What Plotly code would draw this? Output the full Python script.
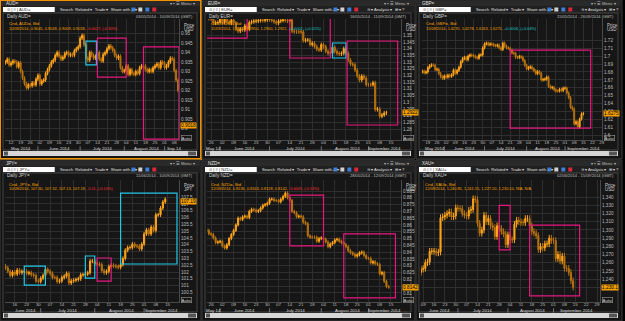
import pandas as pd
import plotly.graph_objects as go

W, H = 625, 321

# ---------------- data (daily closes) ----------------
aud_close = [
    0.9350, 0.9365, 0.9335,
    0.9345, 0.9355, 0.9350, 0.9325, 0.9345,
    0.9300, 0.9265, 0.9235, 0.9215, 0.9230,
    0.9225, 0.9240, 0.9230, 0.9260, 0.9280,
    0.9235, 0.9250, 0.9255, 0.9290, 0.9310,
    0.9330, 0.9350, 0.9360, 0.9385, 0.9400,
    0.9380, 0.9365, 0.9375, 0.9395, 0.9400,
    0.9385, 0.9390, 0.9385, 0.9410, 0.9420,
    0.9430,
    0.9475, 0.9490, 0.9440, 0.9370,
    0.9360, 0.9400, 0.9385, 0.9370, 0.9380,
    0.9400, 0.9365, 0.9355, 0.9390, 0.9400,
    0.9420, 0.9435, 0.9425, 0.9410, 0.9385,
    0.9370, 0.9380, 0.9320, 0.9300,
    0.9305,
    0.9330, 0.9285, 0.9310, 0.9290, 0.9285,
    0.9300, 0.9290, 0.9320, 0.9330, 0.9330,
    0.9310, 0.9300, 0.9310, 0.9300, 0.9320,
    0.9330, 0.9340, 0.9320, 0.9350, 0.9345,
    0.9320, 0.9330, 0.9350, 0.9370, 0.9365,
    0.9305, 0.9255, 0.9200,
]
eur_close = [
    1.3630, 1.3625,
    1.3640, 1.3590, 1.3595, 1.3595, 1.3635,
    1.3595, 1.3620, 1.3600, 1.3590, 1.3615,
    1.3590, 1.3545, 1.3530, 1.3545, 1.3540,
    1.3570, 1.3545, 1.3595, 1.3600, 1.3605,
    1.3605, 1.3610, 1.3615, 1.3610, 1.3615,
    1.3620,
    1.3615, 1.3610, 1.3600, 1.3590,
    1.3605, 1.3610, 1.3615, 1.3610, 1.3605,
    1.3615, 1.3530, 1.3525, 1.3525, 1.3525,
    1.3525, 1.3460, 1.3465, 1.3465, 1.3430,
    1.3440, 1.3415, 1.3395, 1.3390,
    1.3430,
    1.3415, 1.3380, 1.3365, 1.3365, 1.3410,
    1.3380, 1.3365, 1.3360, 1.3365, 1.3400,
    1.3365, 1.3315, 1.3285, 1.3280, 1.3240,
    1.3195, 1.3165, 1.3195, 1.3180, 1.3130,
    1.3130, 1.3130, 1.3145, 1.2945, 1.2950,
    1.2895, 1.2905, 1.2920, 1.2922,
]
gbp_close = [
    1.6810, 1.6790, 1.6800,
    1.6855, 1.6880, 1.6890, 1.6885, 1.6830,
    1.6835, 1.6780, 1.6740, 1.6720, 1.6750,
    1.6735, 1.6760, 1.6745, 1.6765, 1.6825,
    1.6785, 1.6820, 1.6860, 1.6930, 1.6970,
    1.6985, 1.6955, 1.7000, 1.7015, 1.7010,
    1.7000, 1.6985, 1.6975, 1.7015, 1.7015,
    1.7105,
    1.7155, 1.7165, 1.7145, 1.7155,
    1.7150, 1.7135, 1.7130, 1.7140, 1.7105,
    1.7085, 1.7165, 1.7125, 1.7105, 1.7100,
    1.7075, 1.7040, 1.7035, 1.6985, 1.6985,
    1.6995, 1.6985, 1.6945, 1.6885,
    1.6840,
    1.6855, 1.6865, 1.6840, 1.6815, 1.6780,
    1.6805, 1.6785, 1.6700, 1.6705, 1.6710,
    1.6735, 1.6620, 1.6600, 1.6605, 1.6575,
    1.6560, 1.6560, 1.6580, 1.6565, 1.6595,
    1.6595, 1.6535, 1.6475, 1.6355, 1.6330,
    1.6145, 1.6170, 1.6105, 1.6205, 1.6270,
    1.6275,
]
jpy_close = [
    102.30, 102.05, 101.75, 102.00,
    101.85, 102.15, 101.95, 102.05, 102.05,
    101.90, 101.95, 101.80, 101.75, 101.35,
    101.30,
    101.55, 101.75, 102.20, 102.05,
    101.90, 101.60, 101.60, 101.30, 101.35,
    101.60, 101.70, 101.90, 101.20, 101.35,
    101.40, 101.45, 101.50, 101.80, 101.80,
    101.85, 101.95, 102.80, 102.80,
    102.60,
    102.60, 102.55, 102.10, 101.95, 102.05,
    102.40, 102.50, 102.45, 102.40, 102.35,
    102.55, 103.00, 103.60, 103.80, 103.80,
    104.05, 103.90, 103.90, 103.70, 104.05,
    104.80, 105.10, 104.80, 105.30, 105.05,
    106.20, 106.20, 106.70, 107.15, 107.35,
]
nzd_close = [
    0.8560, 0.8535,
    0.8530, 0.8505, 0.8470, 0.8475, 0.8480,
    0.8445, 0.8430, 0.8455, 0.8500, 0.8530,
    0.8560, 0.8600, 0.8650, 0.8640, 0.8660,
    0.8665, 0.8655, 0.8700, 0.8715, 0.8710,
    0.8700, 0.8705, 0.8725, 0.8745, 0.8750,
    0.8760,
    0.8790, 0.8790, 0.8780, 0.8780,
    0.8770, 0.8790, 0.8810, 0.8835, 0.8800,
    0.8780, 0.8700, 0.8690, 0.8660, 0.8665,
    0.8660, 0.8620, 0.8610, 0.8520, 0.8510,
    0.8510, 0.8510, 0.8480, 0.8500,
    0.8505,
    0.8495, 0.8475, 0.8440, 0.8460, 0.8470,
    0.8490, 0.8495, 0.8480, 0.8470, 0.8455,
    0.8440, 0.8410, 0.8395, 0.8385, 0.8370,
    0.8380, 0.8395, 0.8400, 0.8375, 0.8355,
    0.8355, 0.8320, 0.8330, 0.8315, 0.8310,
    0.8240, 0.8250, 0.8185, 0.8147, 0.8142,
]
xau_close = [
    1252,
    1253, 1260, 1261, 1274, 1274,
    1274, 1272, 1273, 1315, 1316,
    1318, 1320, 1322, 1316, 1317,
    1327,
    1326, 1326, 1320, 1318,
    1317, 1324, 1325, 1338, 1337,
    1308, 1296, 1300, 1318, 1310,
    1314, 1305, 1303, 1292, 1305,
    1302, 1298, 1295, 1282,
    1294,
    1288, 1288, 1307, 1312, 1310,
    1309, 1309, 1314, 1314, 1305,
    1298, 1296, 1293, 1276, 1280,
    1278, 1283, 1283, 1290, 1287,
    1287, 1265, 1270, 1262, 1268,
    1253, 1253, 1248, 1238, 1230,
]

PINK, CYAN, GREEN = "#e8177f", "#22c8e6", "#1d6b3a"
RED, TEAL = "#ff3030", "#19c8c8"

PANELS = [
    dict(sym="AUD", ccy="USD", box=(0, 0, 202, 159), plot=(5, 19, 180, 140), active=True,
         dates=("2014-05-07", "2014-09-10"), close=aud_close, open0=0.9345, wick=0.0010,
         xr=("2014-05-06 20:00", "2014-09-10 14:00"), tick0="2014-05-12",
         yr=(0.894, 0.9576), dtick=0.005, lbl=(0.9, 0.95), fmt=None,
         hdr="03/05/2014 - 10/09/2014 (GMT)",
         leg="10/09/2014, 0.9045, 0.9048, 0.9009, 0.9018, ", chg="-0.0027, (-0.30%)", chgc=RED,
         tag="0.9018", tagy=0.9015,
         rects=[("2014-07-04", "2014-07-11 12:00", 0.9335, 0.9460, CYAN),
                ("2014-07-14", "2014-08-04", 0.9271, 0.9476, PINK),
                ("2014-08-15", "2014-09-10 12:00", 0.8945, 0.9429, PINK)]),
    dict(sym="EUR", ccy="USD", box=(203, 0, 417, 159), plot=(208, 19, 403, 140), active=False,
         dates=("2014-05-22", "2014-09-11"), close=eur_close, open0=1.3640, wick=0.0015,
         xr=("2014-05-22 04:00", "2014-09-19 12:00"), tick0="2014-05-26",
         yr=(1.2718, 1.3621), dtick=0.005, lbl=(1.28, 1.35), fmt=None,
         hdr="16/05/2014 - 11/09/2014 (GMT)",
         leg="11/09/2014, 1.2920, 1.2950, 1.2900, 1.2922, ", chg="+0.0002, (+0.01%)", chgc=TEAL,
         tag="1.2922", tagy=1.2922,
         rects=[("2014-05-21", "2014-06-17", 1.3479, 1.3700, PINK),
                ("2014-07-14", "2014-08-07", 1.3330, 1.3700, PINK),
                ("2014-08-08", "2014-08-18", 1.3330, 1.3442, CYAN),
                ("2014-08-18 12:00", "2014-09-18", 1.2830, 1.3457, PINK)]),
    dict(sym="GBP", ccy="USD", box=(418, 0, 625, 159), plot=(424, 19, 605, 140), active=False,
         dates=("2014-05-14", "2014-09-15"), close=gbp_close, open0=1.6800, wick=0.0020,
         xr=("2014-05-13 19:00", "2014-09-29 06:00"), tick0="2014-05-19",
         yr=(1.594, 1.747), dtick=0.01, lbl=(1.6, 1.72), fmt=None,
         hdr="15/05/2014 - 26/09/2014 (GMT)",
         leg="15/09/2014, 1.6270, 1.6278, 1.6263, 1.6275, ", chg="+0.0006, (+0.04%)", chgc=TEAL,
         tag="1.6275", tagy=1.6275,
         rects=[("2014-07-21", "2014-09-19", 1.6089, 1.7076, PINK)]),
    dict(sym="JPY", ccy="JPY", box=(0, 160, 202, 321), plot=(5, 180, 180, 302), active=False,
         dates=("2014-06-10", "2014-09-12"), close=jpy_close, open0=102.45, wick=0.15,
         xr=("2014-06-09 19:00", "2014-09-19 22:00"), tick0="2014-06-16",
         yr=(99.8, 108.76), dtick=0.5, lbl=(100.5, 107.5), fmt=None,
         hdr="11/06/2014 - 10/09/2014 (GMT)",
         leg="10/09/2014, 107.30, 107.32, 107.13, 107.19, ", chg="-0.11, (-0.10%)", chgc=RED,
         tag="107.19", tagy=107.19,
         rects=[("2014-06-20", "2014-07-03", 101.04, 102.44, CYAN),
                ("2014-07-28", "2014-08-01", 101.56, 103.18, CYAN),
                ("2014-08-04", "2014-08-12", 101.34, 103.03, PINK),
                ("2014-08-18", "2014-09-19", 102.59, 107.80, CYAN)]),
    dict(sym="NZD", ccy="USD", box=(203, 160, 417, 321), plot=(208, 180, 403, 302), active=False,
         dates=("2014-05-22", "2014-09-12"), close=nzd_close, open0=0.8565, wick=0.0012,
         xr=("2014-05-22 04:00", "2014-09-19 12:00"), tick0="2014-05-26",
         yr=(0.8033, 0.8931), dtick=0.005, lbl=(0.81, 0.885), fmt=None,
         hdr="28/05/2014 - 12/09/2014 (GMT)",
         leg="12/09/2014, 0.8136, 0.8163, 0.8128, 0.8142, ", chg="-0.0005, (-0.11%)", chgc=RED,
         tag="0.8142", tagy=0.8142,
         rects=[("2014-07-14", "2014-08-04", 0.8446, 0.8820, PINK),
                ("2014-08-15", "2014-09-17", 0.8063, 0.8534, PINK)]),
    dict(sym="XAU", ccy="USD", box=(418, 160, 625, 321), plot=(423, 180, 603, 302), active=False,
         dates=("2014-06-06", "2014-09-12"), close=xau_close, open0=1248, wick=4,
         xr=("2014-06-06 00:00", "2014-09-30 10:00"), tick0="2014-06-16",
         yr=(1212, 1361), dtick=10, lbl=(1230, 1340), fmt=",d",
         hdr="02/06/2014 - 15/09/2014 (GMT)",
         leg="12/09/2014, 1,240.85, 1,241.55, 1,227.20, 1,230.10, ", chg="N/A, N/A", chgc="#f5a000",
         tag="1,230.1", tagy=1230.1,
         rects=[("2014-07-28", "2014-08-04", 1275.6, 1330, PINK),
                ("2014-08-15", "2014-09-17", 1219.5, 1306, PINK)]),
]

UP, DN = "#ffa51c", "#b8730f"
FONT = "Liberation Sans, Arial, sans-serif"


def X(p):
    return p / W


def Y(p):
    return 1 - p / H


fig = go.Figure()
shapes, annos = [], []
layout = {}


def prect(x0, y0, x1, y1, fill=None, line=None, lw=1, layer="below"):
    shapes.append(dict(type="rect", xref="paper", yref="paper", x0=X(x0), x1=X(x1),
                       y0=Y(y1), y1=Y(y0), fillcolor=fill or "rgba(0,0,0,0)",
                       line=dict(color=line or "rgba(0,0,0,0)", width=lw if line else 0),
                       layer=layer))


def ptext(x, y, text, size=5, color="#c8c8c8", xa="left", ya="middle", **kw):
    annos.append(dict(xref="paper", yref="paper", x=X(x), y=Y(y), text=text, showarrow=False,
                      xanchor=xa, yanchor=ya, font=dict(size=size, color=color, family=FONT), **kw))


for i, P in enumerate(PANELS, start=1):
    L, T, R, B = P["box"]
    px0, py0, px1, py1 = P["plot"]
    xa, ya = f"x{i}", f"y{i}"
    xk, yk = ("xaxis" if i == 1 else f"xaxis{i}"), ("yaxis" if i == 1 else f"yaxis{i}")

    # ----- window chrome -----
    prect(L, T, R, B, fill="#141414", line="#f39200" if P["active"] else "#3a3a3a",
          lw=2 if P["active"] else 1)
    prect(L + 1, T + 1, R - 1, T + 6, fill="#2a2a2a")
    ptext(L + 4, T + 3.6, P["sym"] + "=", size=4.5, color="#e0e0e0")
    ptext(R - 4, T + 3.6, "▾ ▪ ☰ Menu ▾", size=4.2, color="#bbbbbb", xa="right")
    prect(L + 1, T + 6, R - 1, T + 13, fill="#202020")
    prect(L + 3, T + 7, L + 55, T + 12, fill="#ffffff")
    ptext(L + 5, T + 9.6, "⊙ | ≡ | " + P["sym"] + "=", size=4.2, color="#333333")
    ptext(L + 58, T + 9.6, "Search  Related ▾  Trade ▾  Share with... ▾", size=4.1, color="#e0e0e0")
    for k, c in enumerate(["#3d7fd6", "#d0d0d0", "#3d7fd6", "#d8283a"]):
        prect(L + 132 + 7 * k, T + 7.5, L + 136 + 7 * k, T + 11.5, fill=c)
    if R - L > 205:
        ptext(L + 164, T + 9.6, "≋ ▾ Analysis ▾  ⊞ ▾ ?", size=4.1, color="#e0e0e0")
    # chart container
    prect(L + 3, T + 13, R - 4, B - 9, fill="#161616", line="#444444")
    ptext(L + 5, T + 16, "Daily " + P["sym"] + "=", size=4.6, color="#d0d0d0")
    ptext(R - 6, T + 16, P["hdr"], size=4.0, color="#c0c0c0", xa="right")
    # scrollbar
    prect(L + 3, B - 8, R - 4, B - 3, fill="#d6d6d6")
    prect(L + 4, B - 7.5, L + 8, B - 3.5, fill="#555555")
    prect(R - 13, B - 7.5, R - 5, B - 3.5, fill="#555555")

    # ----- candles -----
    dts = pd.bdate_range(P["dates"][0], P["dates"][1])
    c = P["close"]
    n = min(len(dts), len(c))
    dts, c = dts[:n], c[:n]
    o = [P["open0"]] + c[:-1]
    hi = [max(a, b) + P["wick"] for a, b in zip(o, c)]
    lo = [min(a, b) - P["wick"] for a, b in zip(o, c)]
    fig.add_trace(go.Candlestick(
        x=dts, open=o, high=hi, low=lo, close=c, xaxis=xa, yaxis=ya,
        increasing=dict(line=dict(color=UP, width=1), fillcolor=UP),
        decreasing=dict(line=dict(color=DN, width=1), fillcolor=DN),
        whiskerwidth=0, showlegend=False, hoverinfo="skip"))

    # price tick values within the labelled band
    tv, v = [], P["lbl"][0]
    while v <= P["lbl"][1] + 1e-9:
        tv.append(round(v, 6))
        v += P["dtick"]

    layout[xk] = dict(domain=[X(px0), X(px1)], anchor=ya, type="date", range=list(P["xr"]),
                      rangebreaks=[dict(bounds=["sat", "mon"])], rangeslider=dict(visible=False),
                      tickformat="%d", dtick=7 * 86400000, tick0=P["tick0"], ticks="",
                      ticklabelstandoff=-2,
                      tickfont=dict(size=4.4, color="#bdbdbd", family=FONT),
                      showgrid=True, gridcolor="#2e2e2e", gridwidth=1, zeroline=False,
                      showline=True, linecolor="#4a4a4a", fixedrange=True)
    yd = dict(domain=[Y(py1), Y(py0)], anchor=xa, side="right", range=list(P["yr"]),
              tickmode="array", tickvals=tv, ticks="",
              tickfont=dict(size=4.6, color="#bdbdbd", family=FONT),
              showgrid=True, gridcolor="#2e2e2e", gridwidth=1, zeroline=False,
              showline=True, linecolor="#4a4a4a", mirror=False, fixedrange=True)
    if P["fmt"]:
        yd["tickformat"] = P["fmt"]
    layout[yk] = yd

    # drawn rectangles (chart annotations, data coordinates)
    for (d0, d1, v0, v1, col) in P["rects"]:
        shapes.append(dict(type="rect", xref=xa, yref=ya, x0=d0, x1=d1, y0=v0, y1=v1,
                           line=dict(color=col, width=1.2), fillcolor="rgba(0,0,0,0)",
                           layer="above"))

    # legend text
    ptext(px0 + 2, py0 + 4.5, "Cnd, " + P["sym"] + "=, Bid", size=4.3, color="#f5a000")
    ptext(px0 + 2, py0 + 9,
          P["leg"] + f"<span style='color:{P['chgc']}'>" + P["chg"] + "</span>",
          size=3.9, color="#f5a000")
    # price axis extras
    ptext(px1 + 3, py0 + 6, "Price", size=4.5, color="#d0d0d0")
    ptext(px1 + 3, py0 + 10, P["ccy"], size=4.5, color="#d0d0d0")
    annos.append(dict(xref="paper", yref=ya, x=X(px1 + 1), y=P["tagy"], text=P["tag"],
                      showarrow=False, xanchor="left", yanchor="middle", bgcolor="#f5a000",
                      borderpad=0, font=dict(size=4.8, color="#000000", family=FONT)))
    annos.append(dict(xref="paper", yref="paper", x=X(px1 + 2), y=Y(py1 - 2.5), text="Auto",
                      showarrow=False, xanchor="left", yanchor="middle", bordercolor="#999999",
                      borderwidth=0.6, borderpad=0, font=dict(size=4.4, color="#d0d0d0", family=FONT)))

    # month labels under the day ticks
    my = min(py1 + 9.0, B - 10.6)
    x_lo, x_hi = pd.Timestamp(P["xr"][0]), pd.Timestamp(P["xr"][1])
    mstart = pd.Timestamp(x_lo.year, x_lo.month, 1)
    while mstart < x_hi:
        mend = mstart + pd.offsets.MonthBegin(1)
        s, e = max(mstart, x_lo), min(mend, x_hi)
        days = len(pd.bdate_range(s, e - pd.Timedelta(hours=1)))
        if mstart > x_lo:
            shapes.append(dict(type="line", xref=xa, yref="paper", x0=mstart, x1=mstart,
                               y0=Y(my + 2.2), y1=Y(my - 2.2),
                               line=dict(color="#8a8a8a", width=0.8)))
        if days >= 4:
            label = mstart.strftime("%B %Y") if days >= 12 else mstart.strftime("%b %y")
            mid = s + (e - s) / 2
            annos.append(dict(xref=xa, yref="paper", x=mid, y=Y(my), text=label,
                              showarrow=False, xanchor="center", yanchor="middle",
                              font=dict(size=4.4, color="#d8d8d8", family=FONT)))
        mstart = mend

fig.update_layout(
    width=W, height=H, margin=dict(l=0, r=0, t=0, b=0),
    paper_bgcolor="#000000", plot_bgcolor="#1c1c1c",
    showlegend=False, shapes=shapes, annotations=annos, **layout)

fig.write_html("out.html")
